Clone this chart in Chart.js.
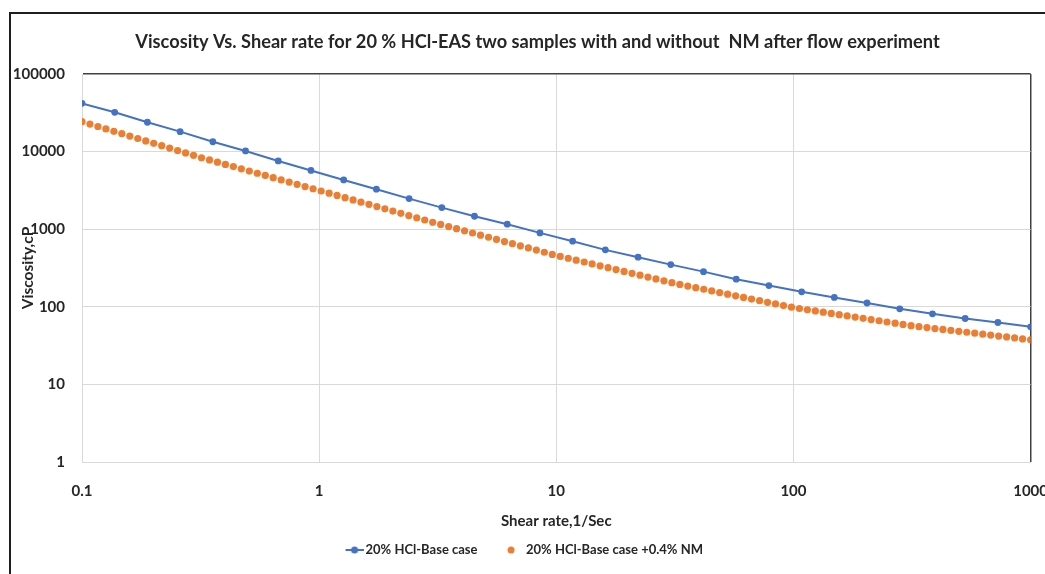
<!DOCTYPE html>
<html>
<head>
<meta charset="utf-8">
<title>Viscosity vs shear rate</title>
<script src="https://cdn.jsdelivr.net/npm/chart.js@4.4.1/dist/chart.umd.min.js"></script>
<style>
  html, body { margin: 0; padding: 0; background: #fff; overflow: hidden; }
  #wrap { position: relative; width: 1068px; height: 574px; }
  #frame { position: absolute; left: 9px; top: 12px; right: -4px; bottom: -4px;
           border-left: 2px solid #1e1e1e; border-top: 2px solid #1e1e1e; }
  #viscChart { position: absolute; left: 0; top: 0; }
</style>
</head>
<body>
<div id="wrap">
  <div id="frame"></div>
  <canvas id="viscChart" width="1068" height="574"></canvas>
</div>
<script>
const chartTitle = 'Viscosity Vs. Shear rate for 20 % HCl-EAS two samples with and without  NM after flow experiment';
const seriesNames = ['20% HCl-Base case', '20% HCl-Base case +0.4% NM'];
const xTickValues = [0.1, 1, 10, 100, 1000];
const yTickValues = [1, 10, 100, 1000, 10000, 100000];

// base case: 30 readings, 1/s
const shearRateBase = [
  0.1, 0.1374, 0.1887, 0.2593, 0.3562, 0.4894, 0.6723, 0.9237, 1.269, 1.743,
  2.395, 3.290, 4.520, 6.210, 8.532, 11.72, 16.10, 22.12, 30.39, 41.75,
  57.36, 78.80, 108.3, 148.7, 204.3, 280.7, 385.7, 529.8, 727.9, 1000
];
const viscosityBase = [
  41900, 32100, 23900, 18100, 13400, 10200, 7580, 5720, 4320, 3280,
  2480, 1900, 1470, 1160, 897, 701, 542, 436, 350, 284,
  227, 188, 156, 132, 112, 94.2, 81.2, 70.7, 62.8, 55.2
];

// base case + 0.4% NM: 120 readings, 1/s
const shearRateNM = [
  0.1, 0.108, 0.1167, 0.1261, 0.1363, 0.1472, 0.1591, 0.1719, 0.1857, 0.2006,
  0.2168, 0.2342, 0.2530, 0.2734, 0.2954, 0.3191, 0.3448, 0.3725, 0.4025, 0.4349,
  0.4698, 0.5076, 0.5485, 0.5926, 0.6402, 0.6917, 0.7474, 0.8075, 0.8724, 0.9426,
  1.0195, 1.1015, 1.190, 1.286, 1.390, 1.501, 1.622, 1.752, 1.893, 2.046,
  2.210, 2.388, 2.580, 2.787, 3.012, 3.254, 3.516, 3.798, 4.104, 4.434,
  4.791, 5.179, 5.596, 6.046, 6.532, 7.058, 7.626, 8.239, 8.902, 9.618,
  10.39, 11.23, 12.13, 13.11, 14.16, 15.30, 16.53, 17.86, 19.31, 20.86,
  22.54, 24.35, 26.31, 28.43, 30.71, 33.18, 35.85, 38.73, 41.85, 45.22,
  48.85, 52.78, 57.03, 61.61, 66.57, 71.97, 77.76, 84.01, 90.77, 98.07,
  106.0, 114.5, 123.7, 133.6, 144.4, 156.0, 168.5, 182.1, 196.7, 212.6,
  229.7, 248.1, 268.3, 289.8, 313.2, 338.3, 365.6, 395.0, 426.7, 461.1,
  498.1, 538.2, 581.5, 628.3, 678.8, 733.4, 792.4, 856.1, 925.0, 1000
];
const viscosityNM = [
  24300, 22650, 21090, 19630, 18280, 17020, 15850, 14760, 13750, 12800,
  11920, 11100, 10330, 9618, 8956, 8345, 7816, 7318, 6849, 6413,
  6006, 5623, 5265, 4931, 4617, 4323, 4047, 3790, 3548, 3322,
  3110, 2911, 2725, 2551, 2387, 2234, 2091, 1956, 1830, 1713,
  1604, 1501, 1405, 1315, 1230, 1152, 1082, 1015, 952.8, 894.2,
  839.1, 787.6, 739.1, 693.8, 651.0, 610.9, 573.4, 538.1, 505.0, 474.0,
  446.6, 422.4, 399.5, 377.9, 357.4, 338.0, 319.7, 302.4, 286.0, 270.5,
  255.8, 242.0, 228.8, 216.4, 204.7, 194.5, 185.3, 176.6, 168.3, 160.3,
  152.8, 145.5, 138.7, 132.2, 125.9, 120.0, 114.3, 108.9, 103.8, 98.9,
  95.1, 91.7, 88.4, 85.3, 82.2, 79.3, 76.4, 73.7, 71.1, 68.5,
  66.1, 63.7, 61.5, 59.3, 57.1, 55.5, 54.0, 52.5, 51.1, 49.7,
  48.3, 47.0, 45.7, 44.4, 43.2, 42.0, 40.9, 39.7, 38.6, 37.6
];

const BLUE = '#4472C4';
const ORANGE = '#ED7D31';
const GRID = '#d9d9d9';
const EDGE = '#404040';
const TEXT = '#262626';
const FAMILY = 'Lato, "Open Sans", sans-serif';

// small legend symbols: line with dot, and a bare dot
function legendMarker(color, withLine) {
    const c = document.createElement('canvas');
    c.width = withLine ? 26 : 10;
    c.height = 10;
    const g = c.getContext('2d');
    if (withLine) {
        g.strokeStyle = color;
        g.lineWidth = 2;
        g.beginPath();
        g.moveTo(8, 5);
        g.lineTo(26, 5);
        g.stroke();
    }
    g.fillStyle = color;
    g.beginPath();
    g.arc(withLine ? 17 : 5, 5, 3.5, 0, Math.PI * 2);
    g.fill();
    return c;
}

// legend sits a little left of the page centre
const legendNudge = {
    id: 'legendNudge',
    afterLayout(chart) {
        chart.legend.left -= 15;
        chart.legend.right -= 15;
    }
};

const toPoints = (xs, ys) => xs.map((x, i) => ({ x, y: ys[i] }));
const fixedTicks = values => scale => { scale.ticks = values.map(v => ({ value: v })); };

new Chart(document.getElementById('viscChart'), {
    type: 'scatter',
    data: {
        datasets: [{
            label: seriesNames[0],
            data: toPoints(shearRateBase, viscosityBase),
            showLine: true,
            borderColor: BLUE,
            backgroundColor: BLUE,
            borderWidth: 2,
            pointRadius: 3.4,
            pointBorderWidth: 0
        }, {
            label: seriesNames[1],
            data: toPoints(shearRateNM, viscosityNM),
            showLine: false,
            borderColor: ORANGE,
            backgroundColor: ORANGE,
            pointRadius: 3.6,
            pointBorderWidth: 0
        }]
    },
    plugins: [legendNudge],
    options: {
        responsive: false,
        animation: false,
        layout: {
            padding: { left: 7, right: 0, top: 0, bottom: 7.5 }
        },
        plugins: {
            title: {
                display: true,
                text: chartTitle,
                color: TEXT,
                font: { family: FAMILY, size: 18.2, weight: 'bold' },
                padding: { top: 31, bottom: 21.2 }
            },
            legend: {
                position: 'bottom',
                labels: {
                    usePointStyle: true,
                    pointStyleWidth: 17,
                    padding: 25,
                    color: TEXT,
                    font: { family: FAMILY, size: 13, weight: 'bold' },
                    generateLabels: chart => {
                        const items = Chart.defaults.plugins.legend.labels.generateLabels(chart);
                        items[0].pointStyle = legendMarker(BLUE, true);
                        items[1].pointStyle = legendMarker(ORANGE, false);
                        return items;
                    }
                }
            },
            tooltip: { enabled: false }
        },
        scales: {
            x: {
                type: 'logarithmic',
                min: 0.1,
                max: 1000,
                afterBuildTicks: fixedTicks(xTickValues),
                afterFit: scale => { scale.height = 56.5; },
                grid: {
                    drawTicks: false,
                    color: ctx => (ctx.tick && ctx.tick.value === 1000 ? EDGE : GRID),
                    lineWidth: ctx => (ctx.tick && ctx.tick.value === 1000 ? 1.5 : 1)
                },
                border: { color: GRID },
                ticks: {
                    padding: 20,
                    autoSkip: false,
                    maxRotation: 0,
                    color: TEXT,
                    font: { family: FAMILY, size: 15, weight: 'bold' },
                    callback: v => String(v)
                },
                title: {
                    display: true,
                    text: 'Shear rate,1/Sec',
                    color: TEXT,
                    font: { family: FAMILY, size: 15, weight: 'bold' },
                    padding: { top: 0, bottom: -11.5 }
                }
            },
            y: {
                type: 'logarithmic',
                min: 1,
                max: 100000,
                afterBuildTicks: fixedTicks(yTickValues),
                afterFit: scale => { scale.width = 75; },
                grid: {
                    drawTicks: false,
                    color: ctx => (ctx.tick && ctx.tick.value === 100000 ? EDGE : GRID),
                    lineWidth: ctx => (ctx.tick && ctx.tick.value === 100000 ? 1.5 : 1)
                },
                border: { color: GRID },
                ticks: {
                    padding: 17,
                    color: TEXT,
                    font: { family: FAMILY, size: 15, weight: 'bold' },
                    callback: v => String(v)
                },
                title: {
                    display: true,
                    text: 'Viscosity,cP',
                    color: TEXT,
                    font: { family: FAMILY, size: 15.5, weight: 'bold' },
                    padding: { top: 11.7, bottom: 0 }
                }
            }
        }
    }
});
</script>
</body>
</html>
